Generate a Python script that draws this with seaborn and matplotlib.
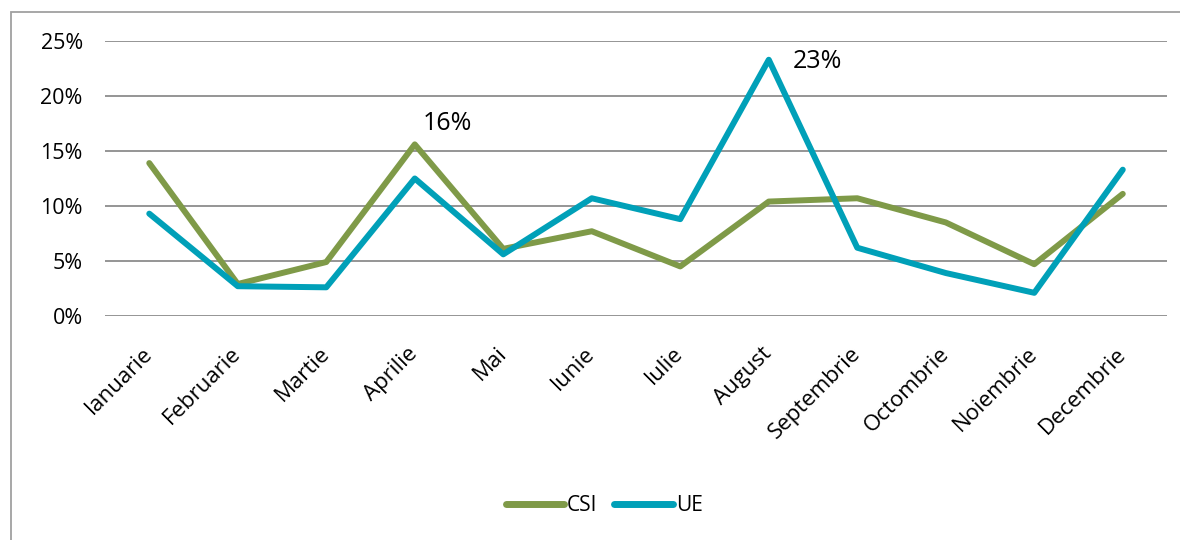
import pandas as pd
import numpy as np
import seaborn as sns
import matplotlib.pyplot as plt
from matplotlib.patches import Rectangle
from matplotlib.ticker import PercentFormatter

months = ["Ianuarie", "Februarie", "Martie", "Aprilie", "Mai", "Iunie",
          "Iulie", "August", "Septembrie", "Octombrie", "Noiembrie", "Decembrie"]
csi = [13.9, 2.9, 4.9, 15.6, 6.1, 7.7, 4.5, 10.4, 10.7, 8.5, 4.7, 11.1]
ue = [9.3, 2.7, 2.6, 12.5, 5.6, 10.7, 8.8, 23.3, 6.2, 3.9, 2.1, 13.3]
series = ["CSI", "UE"]
colors = {"CSI": "#7F9A48", "UE": "#00A0B8"}

df = pd.DataFrame({"luna": months * 2,
                   "val": np.array(csi + ue) / 100,
                   "serie": ["CSI"] * 12 + ["UE"] * 12})

sns.set_style("white", {"text.color": "black", "xtick.color": "black",
                        "ytick.color": "black"})
plt.rcParams['font.family'] = ['Open Sans', 'DejaVu Sans']

fig = plt.figure(figsize=(11.8, 5.4), dpi=100)
ax = fig.add_axes([0.089, 0.415, 0.9, 0.509])
sns.lineplot(data=df, x="luna", y="val", hue="serie", palette=colors,
             linewidth=4.3, sort=False, ax=ax, legend=True)

ax.set_xlim(-0.5, 11.5)
ax.set_ylim(0, 0.25)
ax.set_yticks(np.arange(0, 0.26, 0.05))
ax.yaxis.set_major_formatter(PercentFormatter(1.0, decimals=0))
ax.grid(axis="y", color="#8c8c8c", linewidth=1.3)
ax.set_axisbelow(True)
for s in ax.spines.values():
    s.set_visible(False)
ax.set_xlabel("")
ax.set_ylabel("")
ax.tick_params(axis="both", length=0, labelcolor="black")
ax.tick_params(axis="y", pad=16, labelsize=15.5)
ax.tick_params(axis="x", pad=25, labelsize=16)
plt.setp(ax.get_xticklabels(), rotation=45, ha="right", va="center",
         rotation_mode="anchor")

# etichete de date
ax.annotate("16%", xy=(3, csi[3] / 100), xytext=(6, 15), textcoords="offset points",
            fontsize=18, va="center", ha="left", color="black")
ax.annotate("23%", xy=(7, ue[7] / 100), xytext=(17, -1), textcoords="offset points",
            fontsize=18, va="center", ha="left", color="black")

leg = ax.legend(loc="center", bbox_to_anchor=(0.47, -0.69), ncol=2, frameon=False,
                fontsize=15, handlelength=2.8, columnspacing=0.8, handletextpad=0.15)
for t in leg.get_texts():
    t.set_color("black")
for h in leg.get_lines():
    h.set_linewidth(5)
    h.set_solid_capstyle("round")

fig.patches.append(Rectangle((0.009, -0.05), 1.1, 1.028, transform=fig.transFigure,
                             fill=False, edgecolor="#a0a0a0", linewidth=1.3))

fig.savefig("out.png", dpi=100)
